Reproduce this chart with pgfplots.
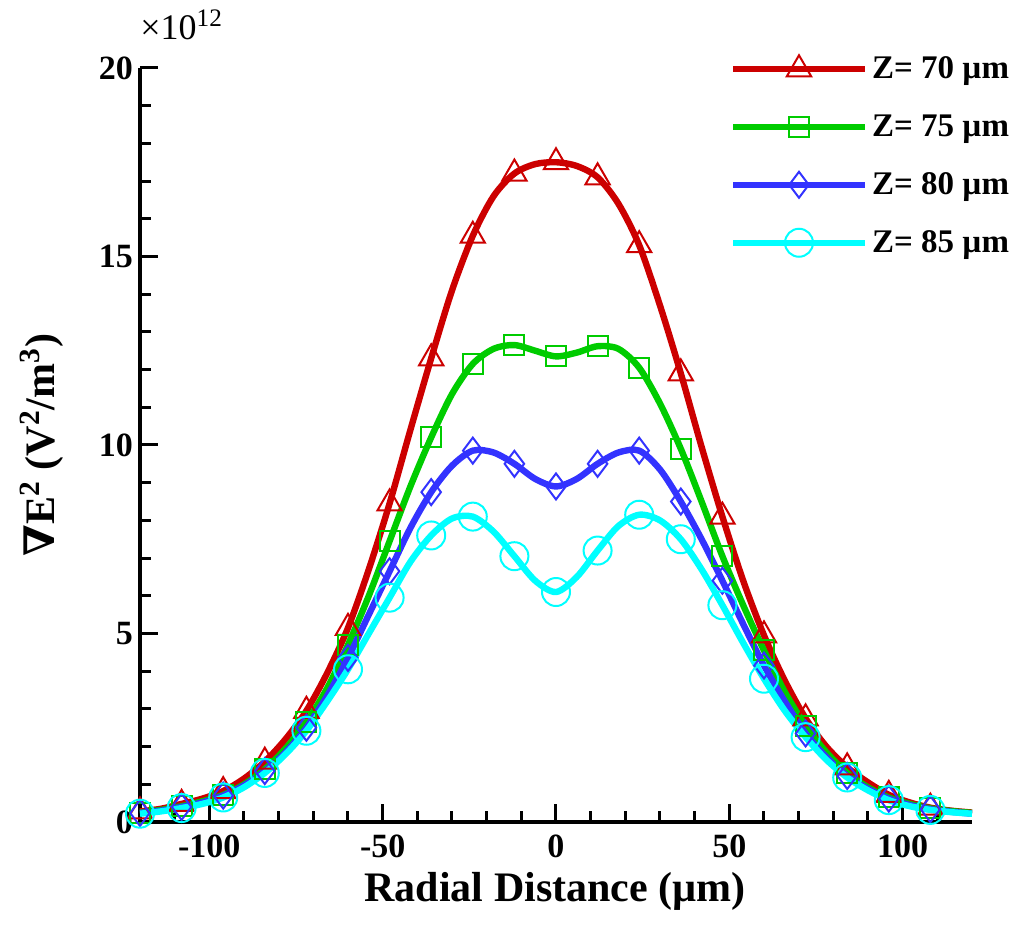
\documentclass[border=0pt]{standalone}
\usepackage{fontspec}
\setmainfont{Liberation Serif}
\newfontfamily\dejavu{DejaVu Serif}
\usepackage{pgfplots}
\pgfplotsset{compat=1.18}
\definecolor{cred}{RGB}{204,0,0}
\definecolor{cgreen}{RGB}{0,204,0}
\definecolor{cblue}{RGB}{51,51,255}
\definecolor{ccyan}{RGB}{0,255,255}
\pgfplotstableread{
x r g b c
-120 0.28 0.25 0.24 0.22
-114 0.35 0.32 0.30 0.28
-108 0.48 0.42 0.40 0.37
-102 0.62 0.55 0.52 0.48
-96 0.82 0.72 0.70 0.65
-90 1.15 1.00 0.97 0.92
-84 1.60 1.40 1.35 1.30
-78 2.20 1.95 1.85 1.80
-72 2.95 2.65 2.50 2.42
-66 3.95 3.55 3.35 3.20
-60 5.15 4.70 4.35 4.05
-54 6.70 6.00 5.50 5.00
-48 8.45 7.45 6.65 5.95
-42 10.40 8.90 7.80 6.90
-36 12.30 10.20 8.75 7.60
-30 14.10 11.35 9.45 8.05
-24 15.55 12.15 9.85 8.10
-18 16.60 12.55 9.80 7.70
-12 17.20 12.65 9.50 7.05
-6 17.45 12.50 9.10 6.40
0 17.50 12.35 8.90 6.10
6 17.40 12.45 9.10 6.50
12 17.10 12.62 9.50 7.20
18 16.40 12.55 9.80 7.85
24 15.30 12.05 9.85 8.15
30 13.70 11.10 9.35 8.00
36 11.90 9.90 8.50 7.50
42 9.95 8.50 7.50 6.70
48 8.10 7.05 6.40 5.75
54 6.40 5.75 5.25 4.75
60 4.95 4.55 4.15 3.80
66 3.75 3.45 3.20 2.95
72 2.75 2.55 2.35 2.25
78 2.00 1.85 1.72 1.65
84 1.45 1.30 1.22 1.18
90 1.05 0.92 0.88 0.84
96 0.72 0.65 0.62 0.58
102 0.52 0.48 0.45 0.42
108 0.38 0.36 0.34 0.32
114 0.30 0.29 0.27 0.26
120 0.25 0.24 0.22 0.22
}\data
\begin{document}
\begin{tikzpicture}
\path[use as bounding box] (-70pt,-53.5pt) rectangle (442pt,411pt);
\begin{axis}[
  scale only axis, width=416pt, height=377pt,
  xmin=-120, xmax=120, ymin=0, ymax=20,
  axis x line*=bottom, axis y line*=left,
  axis line style={line width=2pt, -},
  clip=false,
  xtick align=inside, ytick align=inside,
  every non boxed x axis/.append style={xtick align=inside},
  every non boxed y axis/.append style={ytick align=inside},
  major tick length=9pt, minor tick length=5.5pt,
  every tick/.style={line width=1.5pt, black},
  xtick={-100,-50,0,50,100},
  minor xtick={-110,-90,-80,-70,-60,-40,-30,-20,-10,10,20,30,40,60,70,80,90,110},
  ytick={0,5,10,15,20},
  minor y tick num=4,
  /pgf/number format/assume math mode=true,
  ticklabel style={font=\bfseries\fontsize{17}{17}\selectfont},
  xticklabel style={anchor=base, yshift=-18pt},
  xlabel={Radial Distance (µm)},
  ylabel={{\dejavu\bfseries ∇}E\textsuperscript{2} (V\textsuperscript{2}/m\textsuperscript{3})},
  label style={font=\bfseries\fontsize{21}{21}\selectfont},
  xlabel style={at={(axis description cs:0.499,-0.106)}, anchor=base},
  ylabel style={at={(axis description cs:-0.084,0.5)}, anchor=south},
  legend style={draw=none, fill=none, at={(axis description cs:1.057,1.026)}, anchor=north east,
    font=\bfseries\fontsize{16.5}{16.5}\selectfont, row sep=12.5pt},
  legend cell align=left,
  legend image code/.code={
    \draw[#1, mark=none] (0pt,0pt) -- (66pt,0pt);
    \draw[#1, only marks, mark indices={1}] plot coordinates {(33pt,0pt)};
  },
  every axis plot/.append style={line width=3.2pt, smooth,
    mark indices={1,3,5,7,9,11,13,15,17,19,21,23,25,27,29,31,33,35,37,39}},
]
\addplot[cred, mark=triangle, mark size=7pt, mark options={line width=1pt, fill=none}] table[x=x,y=r] {\data};
\addlegendentry{Z= 70 µm}
\addplot[cgreen, mark=square, mark size=5pt, mark options={line width=1pt, fill=none}] table[x=x,y=g] {\data};
\addlegendentry{Z= 75 µm}
\addplot[cblue, mark=diamond, mark size=6.5pt, mark options={line width=1pt, fill=none}] table[x=x,y=b] {\data};
\addlegendentry{Z= 80 µm}
\addplot[ccyan, mark=o, mark size=7pt, mark options={line width=1pt, fill=none}] table[x=x,y=c] {\data};
\addlegendentry{Z= 85 µm}
\node[anchor=west, font=\fontsize{18}{18}\selectfont] at (axis description cs:-0.008,1.057) {×10\textsuperscript{12}};
\end{axis}
\end{tikzpicture}
\end{document}
